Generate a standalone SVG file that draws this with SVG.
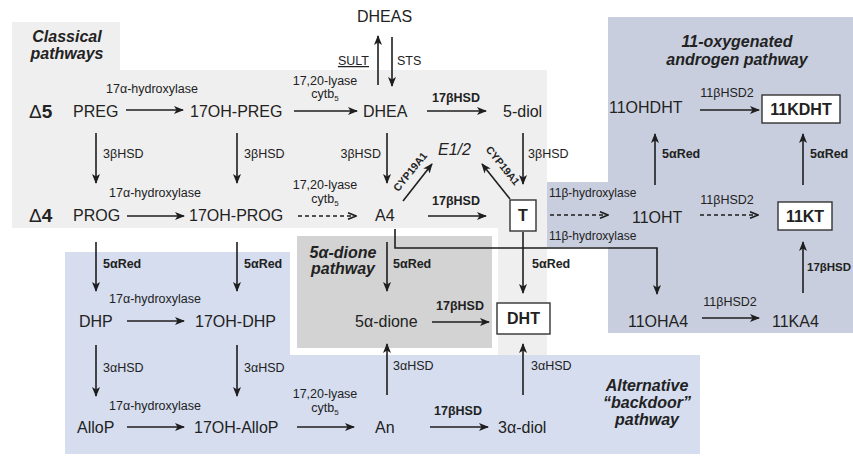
<svg xmlns="http://www.w3.org/2000/svg" width="853" height="456" viewBox="0 0 853 456">
<style>
text{font-family:"Liberation Sans",Arial,sans-serif;fill:#222}
.n{font-size:16px}
.nb{font-size:16px;font-weight:bold}
.l{font-size:12.5px}
.lb{font-size:12.5px;font-weight:bold}
.t{font-size:16px;font-weight:bold;font-style:italic}
.c{text-anchor:middle}
.e{text-anchor:end}
.box{fill:#fff;stroke:#333;stroke-width:1.4}
.a{stroke:#1e1e1e;stroke-width:1.6;fill:none;marker-end:url(#ah)}
.d{stroke:#1e1e1e;stroke-width:1.6;fill:none;stroke-dasharray:4 3;marker-end:url(#ao)}
.p{stroke:#1e1e1e;stroke-width:1.6;fill:none}
</style>
<defs>
<marker id="ah" viewBox="0 0 10 8" refX="9" refY="4" markerWidth="10" markerHeight="8" markerUnits="userSpaceOnUse" orient="auto"><path d="M0,0 L10,4 L0,8 L2.5,4 z" fill="#1e1e1e"/></marker>
<marker id="ao" viewBox="0 0 10 8" refX="9" refY="4" markerWidth="10" markerHeight="8" markerUnits="userSpaceOnUse" orient="auto"><path d="M1,0.7 L9,4 L1,7.3" fill="none" stroke="#1e1e1e" stroke-width="1.6"/></marker>
</defs>
<rect width="853" height="456" fill="#fff"/>
<g id="backgrounds">
<path d="M12,22 H120 V70 H547 V355 H498 V228 H12 Z" fill="#efefef"/>
<path d="M65,252 H290 V355 H700 V454 H65 Z" fill="#d5ddef"/>
<path d="M608,17 H853 V333 H608 V247 H547 V182 H608 Z" fill="#c8cede"/>
<rect x="297" y="236" width="195" height="112" fill="#d3d3d3"/>
</g>
<g id="titles">
<text class="t c" x="67" y="42">Classical</text>
<text class="t c" x="67" y="59">pathways</text>
<text class="t c" x="343" y="258">5α-dione</text>
<text class="t c" x="343" y="274">pathway</text>
<text class="t c" x="647" y="391">Alternative</text>
<text class="t c" x="647" y="408">“backdoor”</text>
<text class="t c" x="647" y="425">pathway</text>
<text class="t c" x="737" y="47">11-oxygenated</text>
<text class="t c" x="737" y="65">androgen pathway</text>
<text x="29" y="118" style="font-size:19px">Δ<tspan style="font-weight:bold">5</tspan></text>
<text x="29" y="222" style="font-size:19px">Δ<tspan style="font-weight:bold">4</tspan></text>
</g>
<g id="PREG"><text class="n" x="73" y="117">PREG</text></g>
<g id="OHPREG"><text class="n" x="190" y="117">17OH-PREG</text></g>
<g id="DHEA"><text class="n" x="363" y="117">DHEA</text></g>
<g id="DHEAS"><text class="n" x="357" y="22">DHEAS</text></g>
<g id="diol5"><text class="n" x="503" y="117">5-diol</text></g>
<g id="PROG"><text class="n" x="73" y="221">PROG</text></g>
<g id="OHPROG"><text class="n" x="189" y="221">17OH-PROG</text></g>
<g id="A4"><text class="n" x="375" y="221">A4</text></g>
<g id="E12"><text class="n" x="438" y="155" style="font-style:italic">E1/2</text></g>
<g id="T"><rect class="box" x="510" y="200" width="26" height="31"/><text class="nb c" x="523" y="221">T</text></g>
<g id="DHP"><text class="n" x="79" y="327">DHP</text></g>
<g id="OHDHP"><text class="n" x="195" y="327">17OH-DHP</text></g>
<g id="dione"><text class="n" x="355" y="327">5α-dione</text></g>
<g id="DHT"><rect class="box" x="497" y="303" width="53" height="31"/><text class="nb c" x="523.5" y="324">DHT</text></g>
<g id="AlloP"><text class="n" x="77" y="433">AlloP</text></g>
<g id="OHAlloP"><text class="n" x="194" y="433">17OH-AlloP</text></g>
<g id="An"><text class="n" x="375" y="433">An</text></g>
<g id="diol3a"><text class="n" x="498" y="433">3α-diol</text></g>
<g id="OHDHT11"><text class="n" x="609" y="113">11OHDHT</text></g>
<g id="KDHT11"><rect class="box" x="762" y="95" width="78" height="28"/><text class="nb c" x="801" y="115">11KDHT</text></g>
<g id="OHT11"><text class="n" x="632" y="223">11OHT</text></g>
<g id="KT11"><rect class="box" x="778" y="202" width="54" height="28"/><text class="nb c" x="805" y="222">11KT</text></g>
<g id="OHA411"><text class="n" x="628" y="327">11OHA4</text></g>
<g id="KA411"><text class="n" x="772" y="327">11KA4</text></g>
<g id="connectors">
<line class="a" x1="126" y1="110" x2="183" y2="110"/>
<line class="a" x1="294" y1="111" x2="357" y2="111"/>
<line class="a" x1="427" y1="111" x2="486" y2="111"/>
<line class="a" x1="378" y1="85" x2="378" y2="36"/>
<line class="a" x1="392" y1="37" x2="392" y2="86"/>
<line class="a" x1="96" y1="133" x2="96" y2="183"/>
<line class="a" x1="237" y1="133" x2="237" y2="183"/>
<line class="a" x1="387" y1="133" x2="387" y2="183"/>
<line class="a" x1="523" y1="133" x2="523" y2="184"/>
<line class="a" x1="127" y1="216" x2="184" y2="216"/>
<line class="d" x1="298" y1="216" x2="356" y2="216"/>
<line class="a" x1="428" y1="216" x2="486" y2="216"/>
<line class="a" x1="403" y1="201" x2="432" y2="164"/>
<line class="a" x1="510" y1="199" x2="482" y2="164"/>
<line class="d" x1="550" y1="215" x2="608" y2="215"/>
<line class="d" x1="700" y1="215" x2="758" y2="215"/>
<line class="a" x1="655" y1="185" x2="655" y2="134"/>
<line class="a" x1="803" y1="185" x2="803" y2="134"/>
<line class="a" x1="700" y1="110" x2="759" y2="110"/>
<line class="a" x1="803" y1="293" x2="803" y2="242"/>
<line class="a" x1="702" y1="318" x2="759" y2="318"/>
<polyline class="a" points="395,229 395,248 657,248 657,294"/>
<line class="a" x1="96" y1="242" x2="96" y2="291"/>
<line class="a" x1="237" y1="242" x2="237" y2="291"/>
<line class="a" x1="387" y1="242" x2="387" y2="291"/>
<line class="a" x1="523" y1="232" x2="523" y2="293"/>
<line class="a" x1="127" y1="321" x2="184" y2="321"/>
<line class="a" x1="432" y1="322" x2="489" y2="322"/>
<line class="a" x1="96" y1="345" x2="96" y2="396"/>
<line class="a" x1="237" y1="345" x2="237" y2="396"/>
<line class="a" x1="387" y1="395" x2="387" y2="344"/>
<line class="a" x1="523" y1="395" x2="523" y2="344"/>
<line class="a" x1="127" y1="427" x2="184" y2="427"/>
<line class="a" x1="297" y1="427" x2="354" y2="427"/>
<line class="a" x1="430" y1="427" x2="488" y2="427"/>
</g>
<g id="labels">
<text class="l c" x="152" y="93">17α-hydroxylase</text>
<text class="l c" x="325" y="85">17,20-lyase</text>
<text class="l c" x="325" y="98">cytb<tspan style="font-size:8px" dy="3">5</tspan></text>
<text class="lb c" x="456" y="102">17βHSD</text>
<text class="l e" x="369" y="65" style="text-decoration:underline">SULT</text>
<text class="l" x="397" y="65">STS</text>
<text class="l" x="103" y="158">3βHSD</text>
<text class="l" x="244" y="158">3βHSD</text>
<text class="l e" x="381" y="158">3βHSD</text>
<text class="l" x="528" y="158">3βHSD</text>
<text class="lb" transform="translate(413,174) rotate(-51)" text-anchor="middle" style="font-size:10.5px">CYP19A1</text>
<text class="lb" transform="translate(500,168) rotate(51)" text-anchor="middle" style="font-size:10.5px">CYP19A1</text>
<text class="l c" x="155" y="197">17α-hydroxylase</text>
<text class="l c" x="325" y="189">17,20-lyase</text>
<text class="l c" x="325" y="203">cytb<tspan style="font-size:8px" dy="3">5</tspan></text>
<text class="lb c" x="456" y="205">17βHSD</text>
<text class="l" x="549" y="197" style="font-size:12px">11β-hydroxylase</text>
<text class="l" x="549" y="240" style="font-size:12px">11β-hydroxylase</text>
<text class="l c" x="727" y="97">11βHSD2</text>
<text class="l c" x="727" y="204">11βHSD2</text>
<text class="l c" x="730" y="306">11βHSD2</text>
<text class="lb" x="662" y="158">5αRed</text>
<text class="lb" x="810" y="158">5αRed</text>
<text class="lb" x="807" y="271" style="font-size:11.5px">17βHSD</text>
<text class="lb" x="103" y="268">5αRed</text>
<text class="lb" x="244" y="268">5αRed</text>
<text class="lb" x="393" y="268">5αRed</text>
<text class="lb" x="532" y="268">5αRed</text>
<text class="l c" x="155" y="303">17α-hydroxylase</text>
<text class="lb c" x="460" y="310">17βHSD</text>
<text class="l" x="103" y="372">3αHSD</text>
<text class="l" x="244" y="372">3αHSD</text>
<text class="l" x="393" y="370">3αHSD</text>
<text class="l" x="531" y="370">3αHSD</text>
<text class="l c" x="155" y="410">17α-hydroxylase</text>
<text class="l c" x="325" y="398">17,20-lyase</text>
<text class="l c" x="325" y="412">cytb<tspan style="font-size:8px" dy="3">5</tspan></text>
<text class="lb c" x="458" y="415">17βHSD</text>
</g>
</svg>
